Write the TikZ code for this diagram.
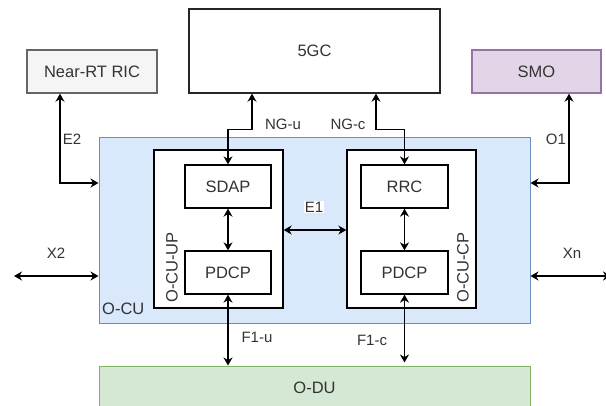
\documentclass[tikz,border=0pt]{standalone}
\usepackage{fontspec}
\setmainfont{Liberation Sans}
\usetikzlibrary{arrows.meta}
\definecolor{txt}{HTML}{333333}
\definecolor{ricfill}{HTML}{F5F5F5}
\definecolor{ricline}{HTML}{666666}
\definecolor{smofill}{HTML}{E1D5E7}
\definecolor{smoline}{HTML}{9673A6}
\definecolor{cufill}{HTML}{DAE8FC}
\definecolor{culine}{HTML}{6C8EBF}
\definecolor{dufill}{HTML}{D5E8D4}
\definecolor{duline}{HTML}{82B366}
\tikzset{
  box/.style={draw, line width=1.3pt, rectangle, inner sep=0pt, text=txt,
    font=\fontsize{16.5}{19}\selectfont},
  lbl/.style={text=txt, inner sep=0pt, font=\fontsize{15}{18}\selectfont},
  boxlbl/.style={text=txt, inner sep=0pt, font=\fontsize{16.5}{19}\selectfont},
  biarrow/.style={line width=1.3pt, {Stealth[length=8pt,width=9pt]}-{Stealth[length=8pt,width=9pt]}},
}
\begin{document}
\begin{tikzpicture}[x=1pt,y=-1pt]
\useasboundingbox (0,0) rectangle (606,405);
% outer boxes
\node[box, draw=ricline, fill=ricfill, minimum width=130pt, minimum height=43pt] (ric) at (92,71.5) {Near-RT RIC};
\node[box, draw=black!85, minimum width=251pt, minimum height=84pt] (gc) at (314.5,51) {5GC};
\node[box, draw=smoline, fill=smofill, minimum width=129pt, minimum height=43pt] (smo) at (536.5,71.5) {SMO};
\node[box, draw=culine, fill=cufill, line width=1pt, minimum width=431pt, minimum height=186pt] (ocu) at (314.5,230) {};
\node[boxlbl, anchor=west] (ocul) at (102,309) {O-CU};
\node[box, draw=duline, fill=dufill, line width=1pt, minimum width=431pt, minimum height=43pt] (odu) at (314.5,387.5) {O-DU};
% O-CU-UP
\node[box, fill=white, minimum width=129pt, minimum height=158pt] (up) at (218.5,229) {};
\node[boxlbl, rotate=90] (upl) at (172,267.5) {O-CU-UP};
\node[box, fill=white, minimum width=86pt, minimum height=43pt] (sdap) at (228,186.5) {SDAP};
\node[box, fill=white, minimum width=86pt, minimum height=43pt] (pdcpu) at (228,272.5) {PDCP};
% O-CU-CP
\node[box, fill=white, minimum width=129pt, minimum height=158pt] (cp) at (411.5,229) {};
\node[boxlbl, rotate=90] (cpl) at (463,267.5) {O-CU-CP};
\node[box, fill=white, minimum width=87pt, minimum height=43pt] (rrc) at (404.5,186.5) {RRC};
\node[box, fill=white, minimum width=87pt, minimum height=43pt] (pdcpc) at (404.5,272.5) {PDCP};
% connectors
\draw[biarrow] ([xshift=-32pt]ric.south) |- ([yshift=47pt]ocu.west);
\node[lbl] (e2l) at (72,139) {E2};
\draw[biarrow] ([xshift=32.5pt]smo.south) |- ([yshift=47pt]ocu.east);
\node[lbl] (o1l) at (556,139) {O1};
\draw[biarrow] ([xshift=-62.5pt]gc.south) -- ++(0,-36pt) -| (sdap.north);
\node[lbl] (ngul) at (283,124) {NG-u};
\draw[biarrow] ([xshift=61.5pt]gc.south) -- ++(0,-36pt) -| (rrc.north);
\node[lbl] (ngcl) at (348,124) {NG-c};
\draw[biarrow] ([yshift=-1pt]up.east) -- ([yshift=-1pt]cp.west);
\node[lbl, fill=white, inner sep=1pt] (e1l) at (314,207) {E1};
\draw[biarrow] (sdap.south) -- (pdcpu.north);
\draw[biarrow] (rrc.south) -- (pdcpc.north);
\coordinate (x2end) at (14,276);
\draw[biarrow] (x2end) -- (ocu.west |- x2end);
\node[lbl] (x2l) at (56,253.5) {X2};
\coordinate (xnend) at (611,276);
\draw[biarrow] (ocu.east |- xnend) -- (xnend);
\node[lbl] (xnl) at (572,253.5) {Xn};
\draw[biarrow] (pdcpu.south) -- (pdcpu.south |- odu.north);
\node[lbl] (f1ul) at (257,337) {F1-u};
\draw[biarrow] (pdcpc.south) -- ([yshift=3pt]pdcpc.south |- odu.north);
\node[lbl] (f1cl) at (372,340) {F1-c};
\end{tikzpicture}
\end{document}
